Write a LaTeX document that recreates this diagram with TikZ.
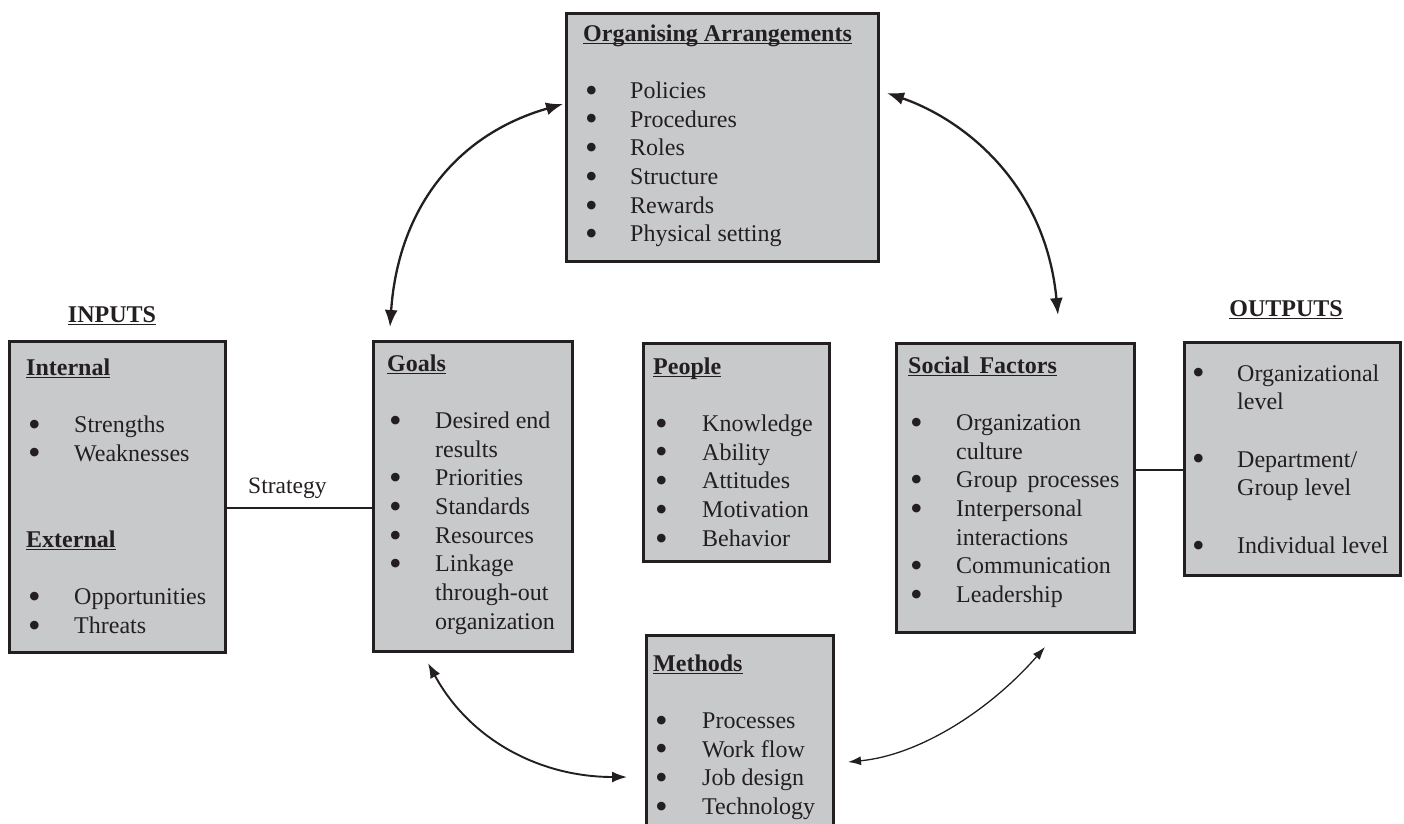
\documentclass[tikz,border=0pt]{standalone}
\usepackage{fontspec}
\setmainfont{Liberation Serif}
\usetikzlibrary{arrows.meta}
\definecolor{boxfill}{RGB}{200,201,203}
\definecolor{ink}{RGB}{35,31,32}
\newcommand{\myhdr}[1]{\setbox0\hbox{\bfseries #1}\rlap{\rule[-3pt]{\wd0}{1.4pt}}\box0}
\newcommand{\bul}{\hspace*{2pt}\raisebox{-3.8pt}{\scalebox{1.5}{\textbullet}}}
\begin{document}
\begin{tikzpicture}[x=1pt,y=-1pt,
  box/.style={draw=ink,fill=boxfill,line width=2.5pt,anchor=north west,inner sep=0pt},
  txt/.style={anchor=base west,inner sep=0pt,text=ink,font=\fontsize{24}{28.7}\selectfont},
  lbl/.style={anchor=base,inner sep=0pt,text=ink,font=\fontsize{24}{28.7}\selectfont},
  conn/.style={draw=ink,line width=2pt},
  arrbig/.style={draw=ink,line width=2.3pt,arrows={Latex[length=17pt,width=13pt]-Latex[length=17pt,width=13pt]}},
  arrmid/.style={draw=ink,line width=1.9pt,arrows={Latex[length=15pt,width=11pt]-Latex[length=15pt,width=11pt]}},
  arrsmall/.style={draw=ink,line width=1.3pt,arrows={Latex[length=13pt,width=9pt]-Latex[length=13pt,width=9pt]}}
]
\useasboundingbox (0,0) rectangle (1404,823);
\clip (0,0) rectangle (1404,823);

% boxes
\node[box,minimum width=312pt,minimum height=248pt] (org) at (565,12) {};
\node[box,minimum width=216pt,minimum height=311pt] (inbox) at (8,340) {};
\node[box,minimum width=199pt,minimum height=310pt] (goals) at (372,340) {};
\node[box,minimum width=186pt,minimum height=218pt] (people) at (642,342) {};
\node[box,minimum width=238pt,minimum height=289pt] (social) at (895,342) {};
\node[box,minimum width=216pt,minimum height=233pt] (outbox) at (1183,341) {};
\node[box,minimum width=187pt,minimum height=200pt] (methods) at (645,634) {};

% texts
\node[txt] (orgT) at (583,41) {\begin{tabular}[t]{@{}p{47pt}@{}l@{}}
\multicolumn{2}{@{}l@{}}{\myhdr{Organising Arrangements}}\\
\\
\bul & Policies\\
\bul & Procedures\\
\bul & Roles\\
\bul & Structure\\
\bul & Rewards\\
\bul & Physical setting
\end{tabular}};

\node[txt] (inT) at (26,375) {\begin{tabular}[t]{@{}p{48pt}@{}l@{}}
\multicolumn{2}{@{}l@{}}{\myhdr{Internal}}\\
\\
\bul & Strengths\\
\bul & Weaknesses\\
\\
\\
\multicolumn{2}{@{}l@{}}{\myhdr{External}}\\
\\
\bul & Opportunities\\
\bul & Threats
\end{tabular}};

\node[txt] (goalsT) at (387,371) {\begin{tabular}[t]{@{}p{48pt}@{}l@{}}
\multicolumn{2}{@{}l@{}}{\myhdr{Goals}}\\
\\
\bul & Desired end\\
 & results\\
\bul & Priorities\\
\bul & Standards\\
\bul & Resources\\
\bul & Linkage\\
 & through-out\\
 & organization
\end{tabular}};

\node[txt] (peopleT) at (653,374) {\begin{tabular}[t]{@{}p{49pt}@{}l@{}}
\multicolumn{2}{@{}l@{}}{\myhdr{People}}\\
\\
\bul & Knowledge\\
\bul & Ability\\
\bul & Attitudes\\
\bul & Motivation\\
\bul & Behavior
\end{tabular}};

\node[txt] (socialT) at (908,373) {\begin{tabular}[t]{@{}p{48pt}@{}l@{}}
\multicolumn{2}{@{}l@{}}{\myhdr{Social\ \,Factors}}\\
\\
\bul & Organization\\
 & culture\\
\bul & Group\ \,processes\\
\bul & Interpersonal\\
 & interactions\\
\bul & Communication\\
\bul & Leadership
\end{tabular}};

\node[txt] (outT) at (1190,381) {\begin{tabular}[t]{@{}p{47pt}@{}l@{}}
\bul & Organizational\\
 & level\\
\\
\bul & Department/\\
 & Group level\\
\\
\bul & Individual level
\end{tabular}};

\node[txt] (methodsT) at (653,671) {\begin{tabular}[t]{@{}p{49pt}@{}l@{}}
\multicolumn{2}{@{}l@{}}{\myhdr{Methods}}\\
\\
\bul & Processes\\
\bul & Work flow\\
\bul & Job design\\
\bul & Technology
\end{tabular}};

% labels
\node[lbl] (inputs) at (112,322) {\myhdr{INPUTS}};
\node[lbl] (outputs) at (1286,316) {\myhdr{OUTPUTS}};
\node[txt,font=\fontsize{23.5}{28}\selectfont] (strat) at (248,493) {Strategy};

% straight connectors
\coordinate (sy) at (0,508);
\coordinate (oy) at (0,470);
\draw[conn] (inbox.east |- sy) -- (goals.west |- sy);
\draw[conn] (social.east |- oy) -- (outbox.west |- oy);

% curved double arrows
\coordinate (g1) at (390,327);
\coordinate (o1) at (563,104);
\coordinate (o2) at (887,93);
\coordinate (s1) at (1058,315);
\coordinate (g2) at (428,663);
\coordinate (m1) at (627,777);
\coordinate (m2) at (848,762);
\coordinate (s2) at (1045,647);
\draw[arrbig] (g1) .. controls (398,210) and (455,135) .. (o1);
\draw[arrbig] (o2) .. controls (960,118) and (1045,180) .. (s1);
\draw[arrmid] (g2) .. controls (470,740) and (540,777) .. (m1);
\draw[arrsmall] (m2) .. controls (920,755) and (990,710) .. (s2);
\end{tikzpicture}
\end{document}
